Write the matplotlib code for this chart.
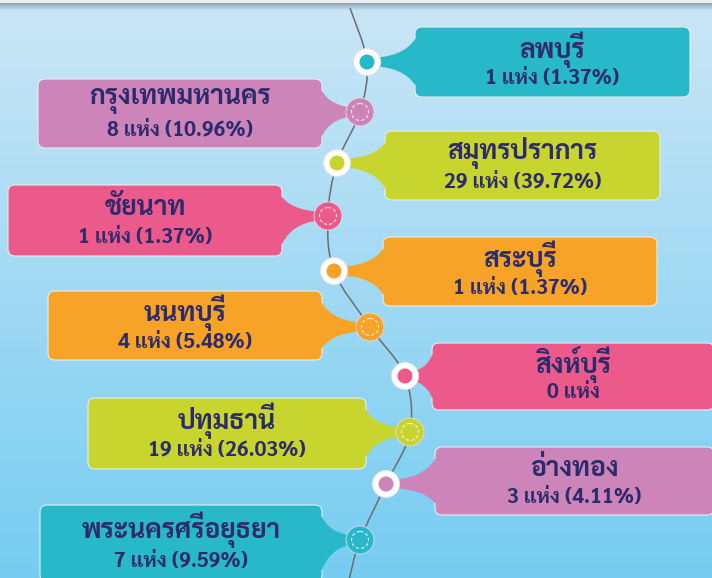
import numpy as np
import matplotlib
matplotlib.use('Agg')
from matplotlib import pyplot as plt
from matplotlib.patches import FancyBboxPatch, Circle, PathPatch
from matplotlib.path import Path

provinces = ['ลพบุรี', 'กรุงเทพมหานคร', 'สมุทรปราการ', 'ชัยนาท', 'สระบุรี',
             'นนทบุรี', 'สิงห์บุรี', 'ปทุมธานี', 'อ่างทอง', 'พระนครศรีอยุธยา']
counts = [1, 8, 29, 1, 1, 4, 0, 19, 3, 7]
percents = [1.37, 10.96, 39.72, 1.37, 1.37, 5.48, None, 26.03, 4.11, 9.59]
colors = ['#27b9c9', '#cc84b9', '#c9d52f', '#ec5a8c', '#f6a328',
          '#f6a328', '#ec5a8c', '#c9d52f', '#cc84b9', '#27b9c9']

# layout (pixels): box x0, y0, x1, y1 and node centre
boxes = [(415, 27, 690, 97), (38, 79, 322, 148), (385, 131, 660, 200),
         (8, 185, 282, 256), (383, 237, 657, 306), (48, 291, 322, 360),
         (432, 343, 714, 410), (88, 398, 366, 469), (435, 447, 714, 515),
         (40, 505, 322, 582)]
nodes = [(367, 62), (360, 112), (337, 163), (328, 216), (334, 271),
         (370, 327), (405, 376), (410, 432), (386, 484), (360, 540)]

family = ['Sarabun', 'DejaVu Sans']
text_color = '#2c2b6c'

W, H = 712, 578
fig = plt.figure(figsize=(W / 100, H / 100), dpi=100)
ax = fig.add_axes([0, 0, 1, 1])
ax.set_xlim(0, W)
ax.set_ylim(H, 0)
ax.axis('off')

# background gradient
top = np.array([203, 230, 246]) / 255
bot = np.array([118, 205, 241]) / 255
t = np.linspace(0, 1, H)[:, None]
grad = top * (1 - t) + bot * t
shadow = np.array([120, 140, 160]) / 255
for i in range(3, 10):
    a = 0.7 * (1 - (i - 3) / 7)
    grad[i] = grad[i] * (1 - a) + shadow * a
grad[:3] = np.array([236, 238, 240]) / 255
img = np.repeat(grad[:, None, :], 2, axis=1)
ax.imshow(img, extent=(0, W, H, 0), aspect='auto', zorder=0)

# wavy line through the nodes
pts = np.array([(350, 8)] + nodes + [(349, 580)], dtype=float)
verts = [pts[0]]
codes = [Path.MOVETO]
for i in range(len(pts) - 1):
    p0 = pts[max(i - 1, 0)]
    p1 = pts[i]
    p2 = pts[i + 1]
    p3 = pts[min(i + 2, len(pts) - 1)]
    verts += [p1 + (p2 - p0) / 6, p2 - (p3 - p1) / 6, p2]
    codes += [Path.CURVE4] * 3
ax.add_patch(PathPatch(Path(verts, codes), fill=False, ec='#6a6d73', lw=1.1, zorder=1))

for i, name in enumerate(provinces):
    x0, y0, x1, y1 = boxes[i]
    nx, ny = nodes[i]
    c = colors[i]
    ax.add_patch(FancyBboxPatch((x0, y0), x1 - x0, y1 - y0,
                                boxstyle='round,pad=0,rounding_size=7',
                                fc=c, ec='#e6eef2', lw=0.8, zorder=2))
    # pointer from box to node
    edge = x0 if nx < x0 else x1
    inner = edge + (4 if nx < x0 else -4)
    tip = nx
    ya, yb = y0 + 12, y1 - 12
    ah, bh = ny - 4, ny + 4
    cx = edge + (tip - edge) * 0.25
    pv = [(inner, ya), (edge, ya), (cx, ah), (tip, ah), (tip, bh),
          (cx, bh), (edge, yb), (inner, yb), (inner, ya)]
    pc = [Path.MOVETO, Path.LINETO, Path.CURVE3, Path.CURVE3, Path.LINETO,
          Path.CURVE3, Path.CURVE3, Path.LINETO, Path.CLOSEPOLY]
    ax.add_patch(PathPatch(Path(pv, pc), fc=c, ec='none', zorder=2))

    # node
    if nx < x0:
        ax.add_patch(Circle((nx, ny), 13.5, fc='white', ec='#dfe3e6', lw=0.8, zorder=3))
        ax.add_patch(Circle((nx, ny), 7.5, fc=c, ec='none', zorder=4))
    else:
        ax.add_patch(Circle((nx, ny), 14, fc=c, ec='#e6d9e0', lw=0.6, zorder=3))
        ax.add_patch(Circle((nx, ny), 8.5, fill=False, ec='white', lw=0.8,
                            ls=(0, (3, 2)), alpha=0.8, zorder=4))

    if percents[i] is None:
        value = f'{counts[i]} แห่ง'
    else:
        value = f'{counts[i]} แห่ง ({percents[i]:.2f}%)'
    cxt = (x0 + x1) / 2
    ax.text(cxt, y0 + 0.32 * (y1 - y0), name, ha='center', va='center',
            fontsize=19, fontweight='bold', color=text_color, family=family, zorder=5)
    ax.text(cxt, y0 + 0.74 * (y1 - y0), value, ha='center', va='center',
            fontsize=15, fontweight='bold', color=text_color, family=family, zorder=5)

fig.savefig('out.png', dpi=100)
